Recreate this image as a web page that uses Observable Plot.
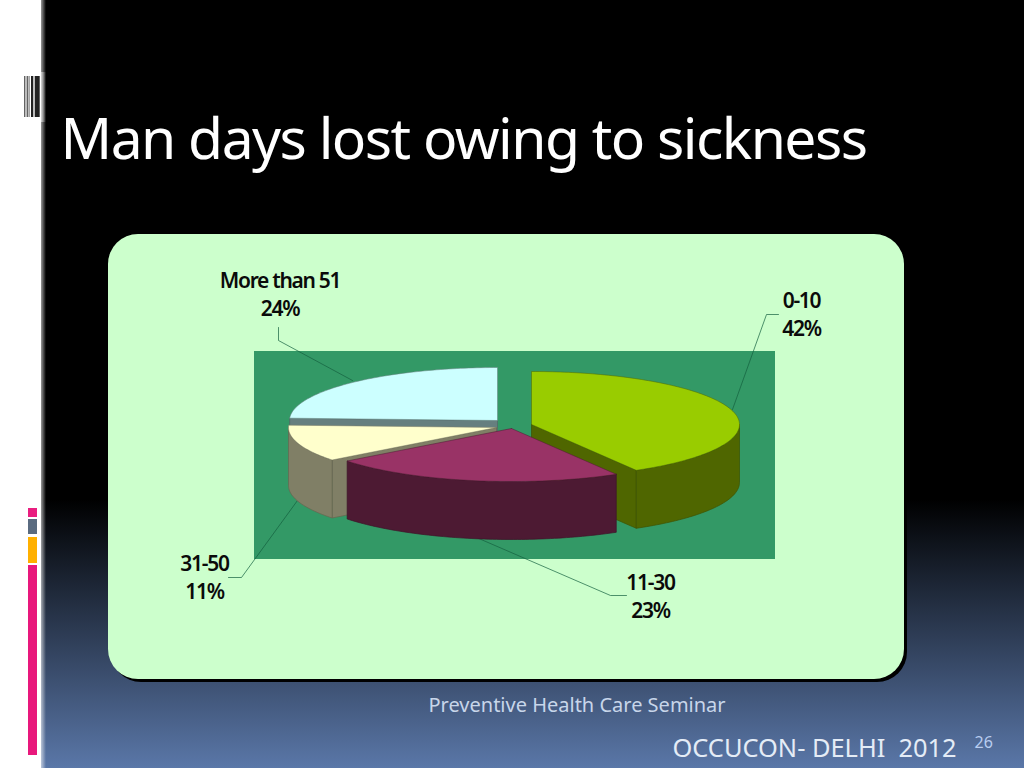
<!DOCTYPE html>
<html>
<head>
<meta charset="utf-8">
<script src="https://cdn.jsdelivr.net/npm/d3@7"></script>
<script src="https://cdn.jsdelivr.net/npm/@observablehq/plot@0.6"></script>
<style>html,body{margin:0;padding:0;background:#000;overflow:hidden}svg{display:block}</style>
</head>
<body>
<script>
// Chart data
const categories = ["0-10", "11-30", "31-50", "More than 51"];
const shares = [41.6, 22.9, 11.2, 24.3];
const titleText = "Man days lost owing to sickness";
const seminarText = "Preventive Health Care Seminar";
const footerText = "OCCUCON- DELHI  2012";
const pageNumber = "26";

// Style and layout, kept apart from the values
const topColors = ["#99cc00", "#993366", "#ffffcc", "#ccffff"];
const sideColors = ["#4f6600", "#4d1a33", "#807f66", "#667f7f"];
const edgeColors = ["#3f5200", "#3d1428", "#66654f", "#506666"];
const sliceCentres = [[531, 424], [511, 428], [496, 427], [497, 420]];
const labelAnchors = [[801, 307], [650, 589], [204, 570], [279.5, 287]];
const leaderPaths = [
  [[778, 314], [766, 314], [732, 409]],
  [[476, 537], [610, 595], [626, 595]],
  [[228, 577], [241, 577], [297, 500]],
  [[278, 327], [278, 340], [352, 380]]
];
const rx = 208, ry = 53, depth = 58;
const hatchBars = [[24.3, 25.3], [26.7, 27.7], [28.7, 29.4], [31, 33.3], [34.7, 39.7]];
const sideBars = [[508, 517, "#e91e80"], [519, 534, "#5a6b80"], [537, 563, "#ffb000"], [565, 755, "#e8187c"]];

// Pie layout from the values
const arcs = d3.pie().sort(null).value(d => d).startAngle(0).endAngle(2 * Math.PI)(shares);

function rimPoint(cx, cy, a, drop = 0) {
  return [cx + rx * Math.sin(a), cy - ry * Math.cos(a) + drop];
}
function arcPoints(cx, cy, a0, a1, drop = 0) {
  const n = Math.max(2, Math.ceil((a1 - a0) / 0.02));
  return d3.range(n + 1).map(i => rimPoint(cx, cy, a0 + (a1 - a0) * i / n, drop));
}
const close = p => [...p, p[0]];
const poly = (pts, fill, stroke, strokeWidth = 0.7) =>
  Plot.line(close(pts), {x: d => d[0], y: d => d[1], fill, stroke, strokeWidth, curve: "linear"});

function sliceMarks(arc, i) {
  const [cx, cy] = sliceCentres[i];
  const {startAngle: a0, endAngle: a1} = arc;
  const marks = [];
  const wall = a => {
    const rim = rimPoint(cx, cy, a);
    return poly([[cx, cy], rim, [rim[0], rim[1] + depth], [cx, cy + depth]], sideColors[i], edgeColors[i]);
  };
  if (Math.sin(a0) < -1e-6) marks.push(wall(a0));
  if (Math.sin(a1) > 1e-6) marks.push(wall(a1));
  const o0 = Math.max(a0, Math.PI / 2), o1 = Math.min(a1, 3 * Math.PI / 2);
  if (o1 > o0) {
    marks.push(poly([...arcPoints(cx, cy, o0, o1), ...arcPoints(cx, cy, o0, o1, depth).reverse()], sideColors[i], edgeColors[i]));
  }
  marks.push(poly([[cx, cy], ...arcPoints(cx, cy, a0, a1)], topColors[i], sideColors[i], 0.5));
  return marks;
}

// Page furniture
const one = [0];
const box = (x1, x2, y1, y2, fill, extra = {}) => Plot.rect(one, {x1, x2, y1, y2, fill, ...extra});
const defs = () => {
  const d = d3.create("svg:defs");
  const v = d.append("linearGradient").attr("id", "pageFade").attr("x1", 0).attr("x2", 0).attr("y1", 0).attr("y2", 1);
  v.append("stop").attr("offset", 0).attr("stop-color", "#000");
  v.append("stop").attr("offset", 0.65).attr("stop-color", "#000");
  v.append("stop").attr("offset", 1).attr("stop-color", "#5a77a8");
  const h = d.append("linearGradient").attr("id", "edgeFade");
  h.append("stop").attr("offset", 0).attr("stop-color", "#fff").attr("stop-opacity", 0.6);
  h.append("stop").attr("offset", 1).attr("stop-color", "#fff").attr("stop-opacity", 0);
  return d.node();
};
const txt = (text, x, y, o) => Plot.text([text], {text: d => d, x, y, lineAnchor: "bottom", fontFamily: "Noto Sans", ...o});
const percent = v => Math.round(v) + "%";

const chart = Plot.plot({
  width: 1024, height: 768,
  margin: 0,
  style: {background: "transparent", fontFamily: "Noto Sans"},
  x: {domain: [0, 1024], range: [0, 1024], axis: null},
  y: {domain: [0, 768], range: [0, 768], axis: null},
  marks: [
    defs,
    box(0, 1024, 0, 768, "url(#pageFade)"),
    box(0, 41, 0, 768, "#ffffff"),
    box(41, 46, 0, 768, "url(#edgeFade)"),
    box(41, 46, 72, 122, "url(#edgeFade)"),
    ...hatchBars.map(([a, b]) => box(a, b, 76, 117, "#222")),
    ...sideBars.map(([a, b, c]) => box(28, 37, a, b, c)),
    box(111, 907, 237, 682, "#000", {rx: 30}),
    box(108, 904, 234, 679, "#ccffcc", {rx: 30}),
    box(254, 775, 351, 559, "#339966"),
    ...leaderPaths.map(p => Plot.line(p, {x: d => d[0], y: d => d[1], stroke: "#14603f", strokeWidth: 0.7})),
    ...[3, 2, 0, 1].flatMap(i => sliceMarks(arcs[i], i)),
    ...categories.flatMap((c, i) => {
      const [x, y] = labelAnchors[i];
      const o = {fill: "#0a0a0a", fontSize: 21, fontWeight: 600, textAnchor: "middle"};
      return [txt(c, x, y, o), txt(percent(shares[i]), x, y + 28, o)];
    }),
    txt(titleText, 60, 158, {fill: "#fff", fontSize: 57, textAnchor: "start"}),
    txt(seminarText, 428, 711, {fill: "#c8d6ea", fontSize: 20, textAnchor: "start"}),
    txt(footerText, 672, 756, {fill: "#e4ecf6", fontSize: 25.4, textAnchor: "start"}),
    txt(pageNumber, 974, 747, {fill: "#b9cdf0", fontSize: 16, textAnchor: "start"})
  ]
});
// Text spacing that Plot's text options do not carry
const labelSet = new Set([...categories, ...shares.map(percent)]);
for (const t of chart.querySelectorAll("text")) {
  const s = t.textContent;
  if (s === titleText) t.style.letterSpacing = "-1.53px";
  else if (labelSet.has(s)) t.style.letterSpacing = "-1.3px";
  else if (s === footerText) t.style.whiteSpace = "pre";
}
document.body.appendChild(chart);
</script>
</body>
</html>
